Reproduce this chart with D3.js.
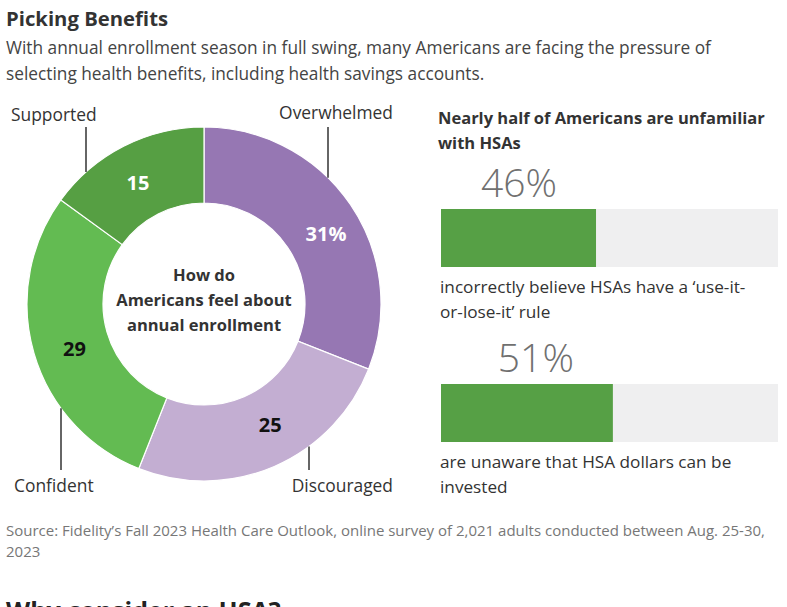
<!DOCTYPE html>
<html>
<head>
<meta charset="utf-8">
<script src="https://cdn.jsdelivr.net/npm/d3@7"></script>
<style>
  html, body { margin: 0; padding: 0; background: #fff; }
  svg { display: block; }
  text { font-family: "Open Sans", "Noto Sans", sans-serif; }
</style>
</head>
<body>
<svg id="chart" width="787" height="607"></svg>
<script>
// ---- Data ----
const categories = ["Overwhelmed", "Discouraged", "Confident", "Supported"];
const shares = [31, 25, 29, 15];
const shareLabels = ["31%", "25", "29", "15"];
const sliceColors = ["#9677b3", "#c3aed2", "#63bb52", "#569f43"];
const sliceLabelColors = ["#ffffff", "#111111", "#111111", "#ffffff"];

const hsaValues = [46, 51];
const hsaLabels = ["46%", "51%"];
const hsaCaptions = [
  ["incorrectly believe HSAs have a \u2018use-it-", "or-lose-it\u2019 rule"],
  ["are unaware that HSA dollars can be", "invested"]
];

const title = "Picking Benefits";
const subtitle = [
  "With annual enrollment season in full swing, many Americans are facing the pressure of",
  "selecting health benefits, including health savings accounts."
];
const centerText = ["How do", "Americans feel about", "annual enrollment"];
const panelTitle = ["Nearly half of Americans are unfamiliar", "with HSAs"];
const source = [
  "Source: Fidelity\u2019s Fall 2023 Health Care Outlook, online survey of 2,021 adults conducted between Aug. 25-30,",
  "2023"
];
const nextHeading = "Why consider an HSA?";

// ---- Drawing ----
const svg = d3.select("#chart");

// Header
svg.append("text").attr("x", 6).attr("y", 26)
  .attr("font-size", 20.3).attr("font-weight", 700).attr("fill", "#333")
  .text(title);
svg.selectAll(".sub").data(subtitle).join("text")
  .attr("x", 6).attr("y", (d, i) => 54 + i * 25.5)
  .attr("font-size", 17.3).attr("fill", "#444")
  .text(d => d);

// Donut
const cx = 204, cy = 304, rOuter = 177, rInner = 101;
const g = svg.append("g").attr("transform", `translate(${cx},${cy})`);
const pie = d3.pie().sort(null).value(d => d.v);
const arcs = pie(categories.map((c, i) => ({ c, v: shares[i], i })));
const arc = d3.arc().innerRadius(rInner).outerRadius(rOuter);

g.selectAll("path").data(arcs).join("path")
  .attr("d", arc)
  .attr("fill", d => sliceColors[d.data.i])
  .attr("stroke", "#fff").attr("stroke-width", 1.2);

// small label nudges (layout constants, px)
const valueNudge = [[7, 8], [11, -7], [4, 6], [-3, 3]];
g.selectAll(".val").data(arcs).join("text")
  .attr("transform", d => {
    const c = arc.centroid(d); const n = valueNudge[d.data.i];
    return `translate(${c[0] + n[0]},${c[1] + n[1]})`;
  })
  .attr("text-anchor", "middle").attr("dy", "0.36em")
  .attr("font-size", 20).attr("font-weight", 700)
  .attr("fill", d => sliceLabelColors[d.data.i])
  .text(d => shareLabels[d.data.i]);

g.selectAll(".ctr").data(centerText).join("text")
  .attr("x", 0).attr("y", (d, i) => -23 + i * 25)
  .attr("text-anchor", "middle")
  .attr("font-size", 16.5).attr("font-weight", 700).attr("fill", "#333")
  .text(d => d);

// Category labels with leader lines (layout constants)
const labelLayout = {
  Overwhelmed: { tx: 393, ty: 119, anchor: "end", lx: 328, ly: 127, up: true },
  Supported:   { tx: 11,  ty: 121, anchor: "start", lx: 86, ly: 127, up: true },
  Confident:   { tx: 14,  ty: 492, anchor: "start", lx: 61, ly: 470, up: false },
  Discouraged: { tx: 393, ty: 492, anchor: "end", lx: 309, ly: 470, up: false }
};
categories.forEach(c => {
  const L = labelLayout[c];
  const dx = L.lx - cx;
  const dy = Math.sqrt(rOuter * rOuter - dx * dx);
  const ringY = L.up ? cy - dy : cy + dy;
  svg.append("line")
    .attr("x1", L.lx).attr("x2", L.lx)
    .attr("y1", L.ly).attr("y2", ringY)
    .attr("stroke", "#333").attr("stroke-width", 1.5);
  svg.append("text").attr("x", L.tx).attr("y", L.ty)
    .attr("text-anchor", L.anchor)
    .attr("font-size", 17.4).attr("fill", "#333")
    .text(c);
});

// Right panel
svg.selectAll(".pt").data(panelTitle).join("text")
  .attr("x", 438).attr("y", (d, i) => 124 + i * 25)
  .attr("font-size", 16.5).attr("font-weight", 700).attr("fill", "#333")
  .text(d => d);

const x = d3.scaleLinear().domain([0, 100]).range([441, 778]);
const barTops = [209, 384];
const barH = 58;

hsaValues.forEach((v, i) => {
  const y0 = barTops[i];
  svg.append("rect").attr("x", x(0)).attr("y", y0)
    .attr("width", x(100) - x(0)).attr("height", barH).attr("fill", "#efeff0");
  svg.append("rect").attr("x", x(0)).attr("y", y0)
    .attr("width", x(v) - x(0)).attr("height", barH).attr("fill", "#56a045");
  svg.append("text").attr("x", x(v) - 77).attr("y", y0 - 12)
    .attr("text-anchor", "middle")
    .attr("font-size", 39).attr("font-weight", 300).attr("fill", "#707070")
    .text(hsaLabels[i]);
  hsaCaptions[i].forEach((t, j) => {
    svg.append("text").attr("x", 440).attr("y", y0 + barH + 26 + j * 25)
      .attr("font-size", 17.2).attr("fill", "#333")
      .text(t);
  });
});

// Source
svg.selectAll(".src").data(source).join("text")
  .attr("x", 6).attr("y", (d, i) => 536 + i * 21)
  .attr("font-size", 15).attr("fill", "#777")
  .text(d => d);

// Next heading (cut off by viewport as in the reference)
svg.append("text").attr("x", 6).attr("y", 620)
  .attr("font-family", "'Liberation Serif', 'DejaVu Serif', serif")
  .attr("font-size", 25).attr("font-weight", 700).attr("fill", "#222")
  .text(nextHeading);
</script>
</body>
</html>
